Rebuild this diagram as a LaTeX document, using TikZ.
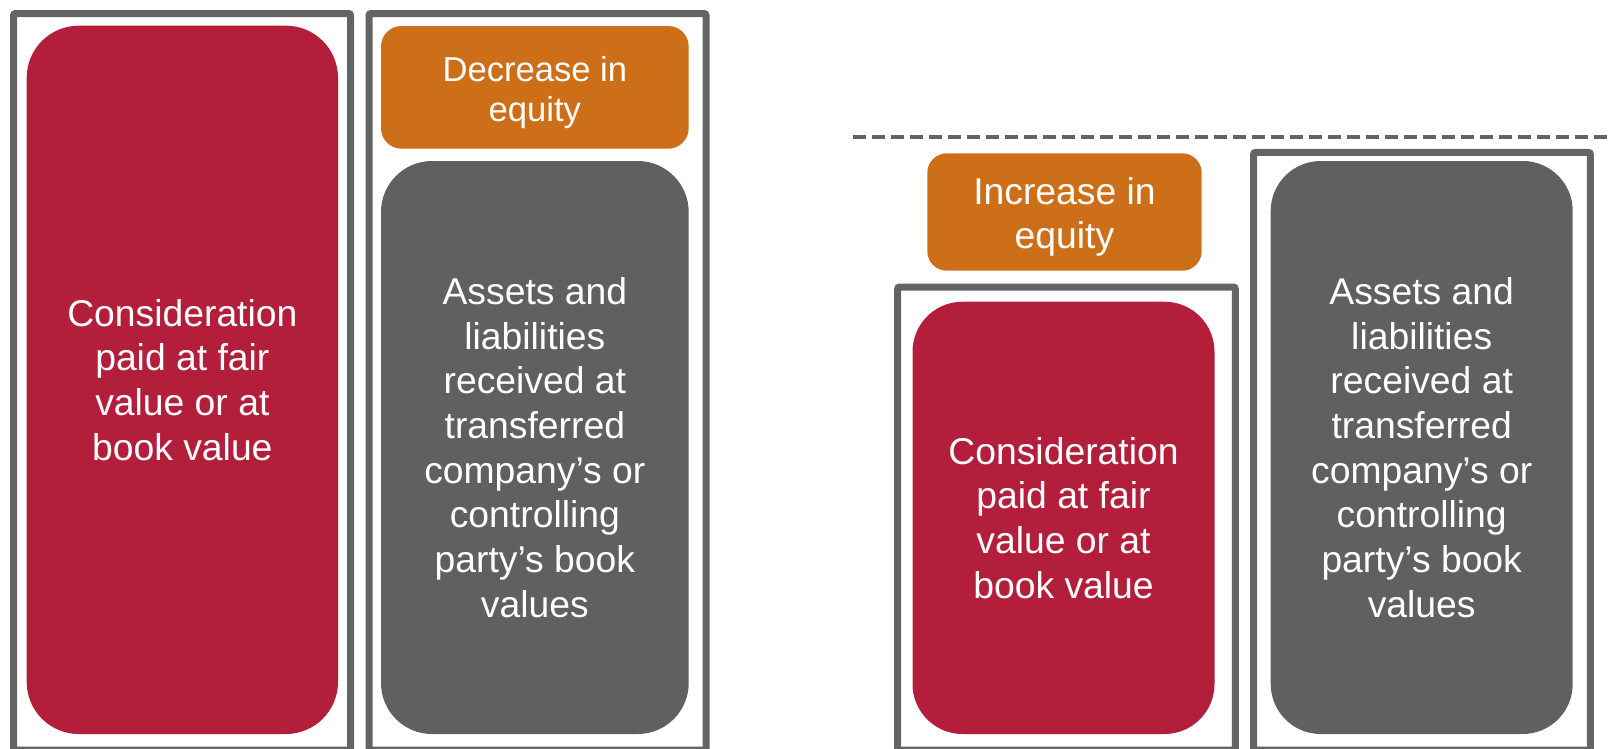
\documentclass[tikz,border=0pt]{standalone}
\usepackage{fontspec}
\setmainfont{Liberation Sans}
\definecolor{cardred}{HTML}{B31F3B}
\definecolor{cardorange}{HTML}{CD6F19}
\definecolor{cardgrey}{HTML}{5F6062}
\definecolor{framegrey}{HTML}{636466}
\tikzset{
  frame/.style={draw=framegrey, line width=7pt, rounded corners=2pt, inner sep=0pt, fill=none},
  card/.style={inner sep=0pt, text=white, align=center, font=\fontsize{37.3}{44.7}\selectfont},
  redcard/.style={card, fill=cardred},
  orangecard/.style={card, fill=cardorange},
  greycard/.style={card, fill=cardgrey},
  divider/.style={draw=framegrey, line width=4pt, dash pattern=on 13pt off 6pt}
}
\begin{document}
\begin{tikzpicture}[x=1pt,y=-1pt]
\useasboundingbox (0,0) rectangle (1608,748);
\clip (0,0) rectangle (1608,748);
% frames
\node[frame, minimum width=337pt, minimum height=736.5pt] (f1) at (182,381.75) {};
\node[frame, minimum width=337pt, minimum height=736.5pt] (f2) at (537.5,381.75) {};
\node[frame, minimum width=337.6pt, minimum height=463pt] (f3) at (1066.5,518.5) {};
\node[frame, minimum width=336.6pt, minimum height=597.7pt] (f4) at (1422,451.2) {};
% left side cards
\node[redcard, minimum width=311.3pt, minimum height=708.3pt, rounded corners=52pt] (r1) at (182.35,379.85)
  {Consideration\\paid at fair\\value or at\\book value};
\node[orangecard, minimum width=307.7pt, minimum height=122.7pt, rounded corners=20.5pt,
      font=\fontsize{34.6}{40.7}\selectfont] (o1) at (534.85,87.35)
  {\rule{0pt}{35.5pt}Decrease in\\equity};
\node[greycard, minimum width=307.7pt, minimum height=573pt, rounded corners=51pt] (g1) at (534.85,447.5)
  {Assets and\\liabilities\\received at\\transferred\\company’s or\\controlling\\party’s book\\values};
% right side cards
\node[orangecard, minimum width=274.4pt, minimum height=117.4pt, rounded corners=19.5pt,
      font=\fontsize{37.3}{44}\selectfont] (o2) at (1064.5,212)
  {\rule{0pt}{37.5pt}Increase in\\equity};
\node[redcard, minimum width=302pt, minimum height=432.3pt, rounded corners=50pt] (r2) at (1063.5,517.85)
  {Consideration\\paid at fair\\value or at\\book value};
\node[greycard, minimum width=302pt, minimum height=573pt, rounded corners=50pt] (g2) at (1421.7,447.5)
  {Assets and\\liabilities\\received at\\transferred\\company’s or\\controlling\\party’s book\\values};
% dashed divider
\coordinate (d1) at (852.7,137.3);
\coordinate (d2) at (1610,137.3);
\draw[divider] (d1) -- (d2);
\end{tikzpicture}
\end{document}
